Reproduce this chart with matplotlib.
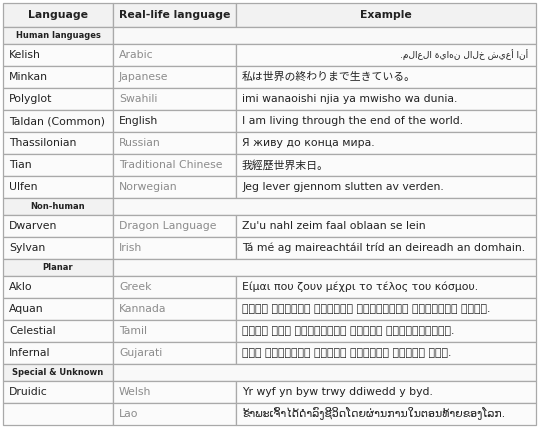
import matplotlib
matplotlib.use("Agg")
import matplotlib.pyplot as plt
from matplotlib.patches import Rectangle

headers = ["Language", "Real-life language", "Example"]
sections = ["Human languages", "Non-human", "Planar", "Special & Unknown"]
languages = [
    ["Kelish", "Minkan", "Polyglot", "Taldan (Common)", "Thassilonian", "Tian", "Ulfen"],
    ["Dwarven", "Sylvan"],
    ["Aklo", "Aquan", "Celestial", "Infernal"],
    ["Druidic", ""],
]
real_life = [
    ["Arabic", "Japanese", "Swahili", "English", "Russian", "Traditional Chinese", "Norwegian"],
    ["Dragon Language", "Irish"],
    ["Greek", "Kannada", "Tamil", "Gujarati"],
    ["Welsh", "Lao"],
]
examples = [
    ["أنا أعيش خلال نهاية العالم.", "私は世界の終わりまで生きている。",
     "imi wanaoishi njia ya mwisho wa dunia.", "I am living through the end of the world.",
     "Я живу до конца мира.", "我經歷世界末日。", "Jeg lever gjennom slutten av verden."],
    ["Zu'u nahl zeim faal oblaan se lein", "Tá mé ag maireachtáil tríd an deireadh an domhain."],
    ["Είμαι που ζουν μέχρι το τέλος του κόσμου.", "ನಾನು ವಿಶ್ವದ ಅಂತ್ಯದ ಸಮಯದಲ್ಲಿ ವಾಸಿಸುವ ನಾನು.",
     "நான் உலக முடிவில் மூலம் வாழ்கிறேன்.", "હું વિશ્વના ઓવરને મારફતે રહેતા છું."],
    ["Yr wyf yn byw trwy ddiwedd y byd.", "ຂ້າພະເຈົ້າໄດ້ດໍາລົງຊີວິດໂດຍຜ່ານການໃນຕອນທ້າຍຂອງໂລກ."],
]

fam = ["DejaVu Sans", "Noto Sans CJK JP", "Noto Sans CJK TC"]
fig = plt.figure(figsize=(5.4, 4.41), dpi=100)
ax = fig.add_axes([0, 0, 1, 1])
ax.set_xlim(0, 540); ax.set_ylim(441, 0); ax.axis("off")

x0, x1, x2, x3 = 3, 113, 236, 536
border = "#a9a9a9"
row_h, sec_h, head_h = 22.0, 17.0, 24.0

def cell(x, y, w, h, fc):
    ax.add_patch(Rectangle((x, y), w, h, facecolor=fc, edgecolor=border, lw=0.9))

y = 3
cell(x0, y, x1 - x0, head_h, "#f2f2f2"); cell(x1, y, x2 - x1, head_h, "#f2f2f2"); cell(x2, y, x3 - x2, head_h, "#f2f2f2")
for xa, xb, t in [(x0, x1, headers[0]), (x1, x2, headers[1]), (x2, x3, headers[2])]:
    ax.text((xa + xb) / 2, y + head_h / 2, t, ha="center", va="center", fontsize=7.8, fontweight="bold", color="#222", family=fam)
y += head_h
for s, langs, reals, exs in zip(sections, languages, real_life, examples):
    cell(x0, y, x1 - x0, sec_h, "#f2f2f2"); cell(x1, y, x3 - x1, sec_h, "#f9f9f9")
    ax.text((x0 + x1) / 2, y + sec_h / 2, s, ha="center", va="center", fontsize=6, fontweight="bold", color="#222", family=fam)
    y += sec_h
    for l, r, e in zip(langs, reals, exs):
        cell(x0, y, x1 - x0, row_h, "#fbfbfb"); cell(x1, y, x2 - x1, row_h, "#fbfbfb"); cell(x2, y, x3 - x2, row_h, "#fbfbfb")
        ax.text(x0 + 6, y + row_h / 2, l, ha="left", va="center", fontsize=7.8, color="#222", family=fam)
        ax.text(x1 + 6, y + row_h / 2, r, ha="left", va="center", fontsize=7.8,
                color="#222" if r == "English" else "#8c8c8c", family=fam)
        if r == "Arabic":
            ax.text(x3 - 8, y + row_h / 2, e[::-1], ha="right", va="center", fontsize=6.5, color="#222", family=fam)
        else:
            ax.text(x2 + 6, y + row_h / 2, e, ha="left", va="center", fontsize=7.8, color="#222", family=fam)
        y += row_h

fig.savefig("out.png", dpi=100, facecolor="white")
